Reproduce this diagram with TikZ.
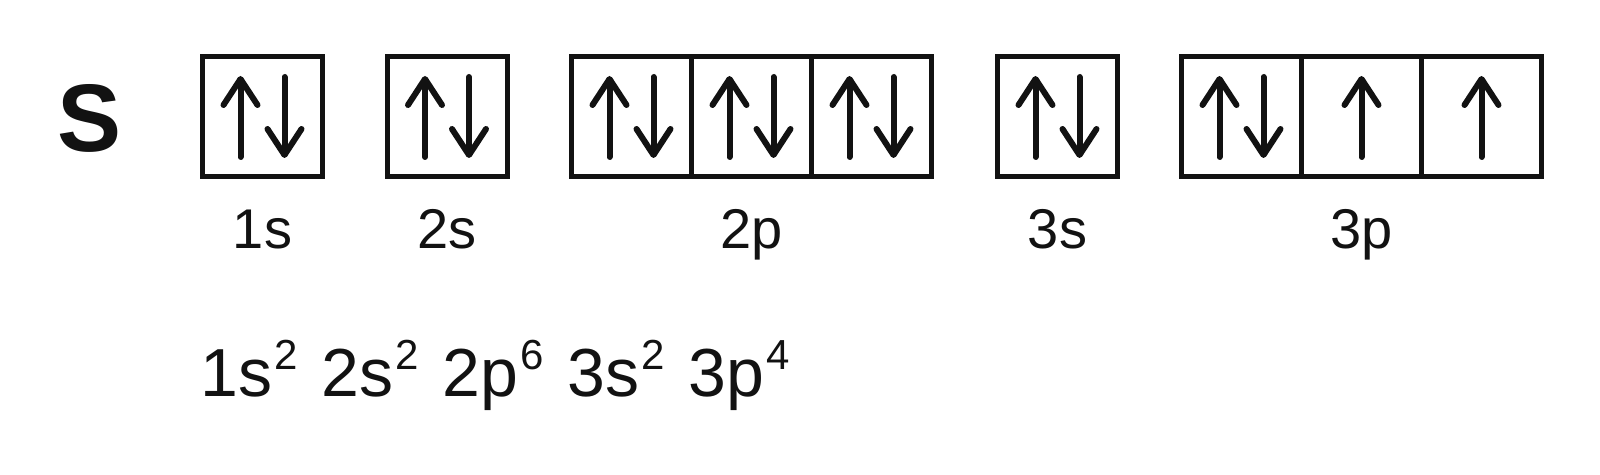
\documentclass[tikz,border=0pt]{standalone}
\usepackage{fontspec}
\setmainfont{Liberation Sans}
\usetikzlibrary{arrows.meta, positioning, calc}

\newcommand{\occ}[1]{\kern1pt\raisebox{13.5pt}{\fontsize{21pt}{21pt}\selectfont #1}}

\begin{document}
\begin{tikzpicture}[x=0.5pt, y=-0.5pt,
    orbital/.style={draw=black!93, line width=2.5pt, minimum size=60pt, inner sep=0pt, outer sep=0pt},
    spin/.style={draw=black!93, line width=3pt, line cap=round, -{Straight Barb[round, length=13pt, width=17pt]}},
    shell/.style={font=\fontsize{28pt}{28pt}\selectfont, text=black!93, anchor=base, inner sep=0pt}]
    \useasboundingbox (0,0) rectangle (1600,475);

    \node[font=\fontsize{48pt}{48pt}\selectfont\bfseries, text=black!93, anchor=base, inner sep=0pt] (elem) at (90,152) {S};

    % orbital boxes
    \node[orbital] (s1) at (262.5,117) {};
    \node[orbital] (s2) at (447,117) {};
    \node[orbital] (p2a) at (631.5,117) {};
    \node[orbital, right=0pt of p2a] (p2b) {};
    \node[orbital, right=0pt of p2b] (p2c) {};
    \node[orbital] (s3) at (1057.5,117) {};
    \node[orbital] (p3a) at (1241.5,117) {};
    \node[orbital, right=0pt of p3a] (p3b) {};
    \node[orbital, right=0pt of p3b] (p3c) {};

    % electrons
    \foreach \b in {s1, s2, p2a, p2b, p2c, s3, p3a} {
        \draw[spin] ($(\b)+(-22,40)$) -- ++(0,-81);
        \draw[spin] ($(\b)+(22,-40)$) -- ++(0,81);
    }
    \foreach \b in {p3b, p3c} {
        \draw[spin] ($(\b)+(0,40)$) -- ++(0,-81);
    }

    % labels
    \node[shell] (l1s) at (262.5,249) {1s};
    \node[shell] (l2s) at (447,249) {2s};
    \node[shell] (l2p) at (751.5,249) {2p};
    \node[shell] (l3s) at (1057.5,249) {3s};
    \node[shell] (l3p) at (1361.5,249) {3p};

    \node[anchor=base west, inner sep=0pt, text=black!93, font=\fontsize{34pt}{34pt}\selectfont] (config) at (200,397)
        {1s\occ{2}\hspace{12pt}2s\occ{2}\hspace{12pt}2p\occ{6}\hspace{12pt}3s\occ{2}\hspace{12pt}3p\occ{4}};
\end{tikzpicture}
\end{document}
